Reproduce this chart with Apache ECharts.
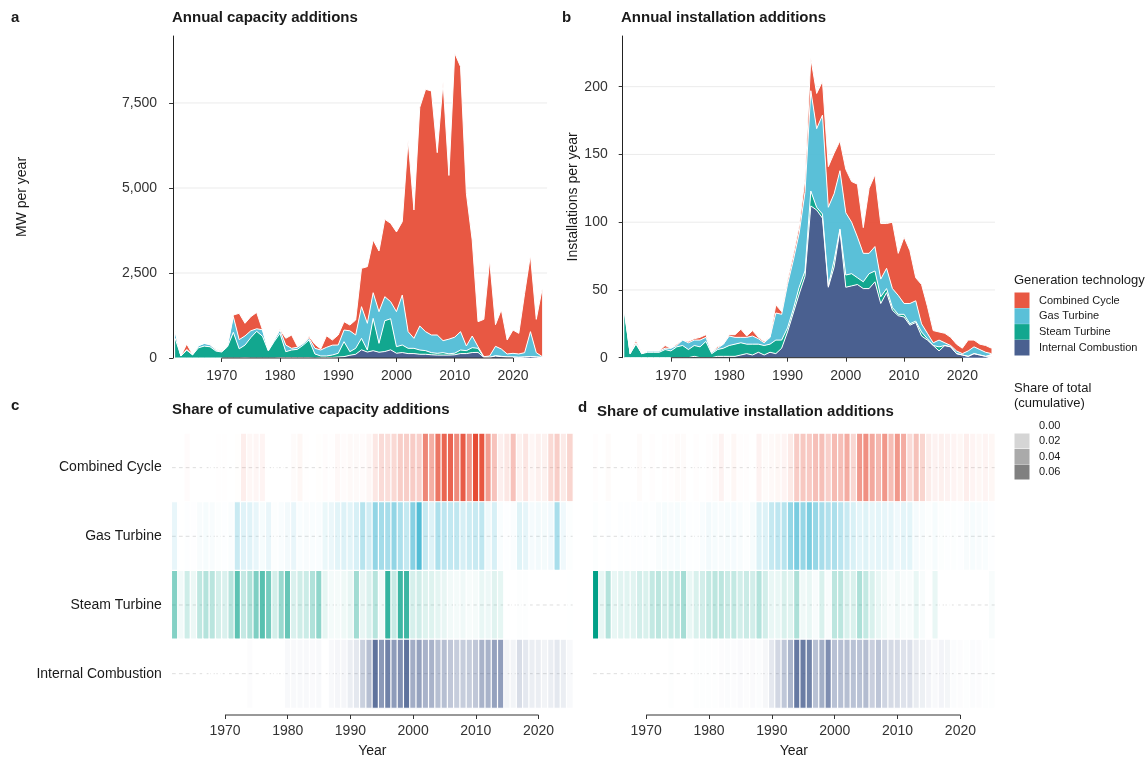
<!DOCTYPE html>
<html>
<head>
<meta charset="utf-8">
<title>Generation additions by technology</title>
<script src="https://cdn.jsdelivr.net/npm/echarts@6/dist/echarts.min.js"></script>
<style>
  html, body { margin: 0; padding: 0; background: #ffffff; }
  #chart { width: 1146px; height: 760px; }
</style>
</head>
<body>
<div id="chart"></div>
<script>
// ---------------------------------------------------------------------------
// Data
// ---------------------------------------------------------------------------
const years = [
  1962, 1963, 1964, 1965, 1966, 1967, 1968, 1969, 1970, 1971,
  1972, 1973, 1974, 1975, 1976, 1977, 1978, 1979, 1980, 1981,
  1982, 1983, 1984, 1985, 1986, 1987, 1988, 1989, 1990, 1991,
  1992, 1993, 1994, 1995, 1996, 1997, 1998, 1999, 2000, 2001,
  2002, 2003, 2004, 2005, 2006, 2007, 2008, 2009, 2010, 2011,
  2012, 2013, 2014, 2015, 2016, 2017, 2018, 2019, 2020, 2021,
  2022, 2023, 2024, 2025
];

const techs = ['Combined Cycle', 'Gas Turbine', 'Steam Turbine', 'Internal Combustion'];
const techColors = ['#E64B35', '#4DBBD5', '#00A087', '#3C5488'];

const xTicks = [1970, 1980, 1990, 2000, 2010, 2020];
const capTicks = [0, 2500, 5000, 7500];
const instTicks = [0, 50, 100, 150, 200];
const shareTicks = [0, 0.02, 0.04, 0.06];

// Annual capacity additions (MW)
const capCC = [
  10, 0, 160, 0, 0, 0, 10, 20, 20, 0,
  50, 775, 370, 416, 480, 0, 0, 0, 10, 200,
  390, 20, 0, 50, 120, 30, 340, 150, 294, 245,
  170, 441, 1127, 1666, 1549, 1784, 2274, 2304, 2343, 2157,
  5637, 3775, 6432, 7127, 7177, 5363, 7608, 4814, 8353, 7794,
  4490, 2823, 735, 1098, 2823, 637, 1157, 412, 686, 607,
  1743, 2255, 980, 1981
];
const capGT = [
  195, 0, 20, 10, 60, 80, 60, 30, 20, 40,
  460, 270, 270, 200, 75, 190, 30, 50, 100, 194,
  50, 60, 50, 50, 166, 175, 254, 290, 245, 343,
  614, 392, 932, 785, 755, 932, 708, 502, 1030, 1471,
  491, 294, 706, 559, 519, 539, 353, 431, 471, 540,
  137, 343, 49, 19, 39, 274, 215, 88, 107, 98,
  127, 735, 127, 29
];
const capST = [
  580, 60, 230, 90, 300, 350, 330, 205, 176, 330,
  755, 270, 375, 600, 785, 640, 206, 480, 715, 176,
  225, 245, 372, 520, 118, 50, 45, 73, 107, 440,
  106, 174, 338, 60, 950, 261, 906, 915, 193, 222,
  154, 154, 125, 106, 62, 52, 72, 38, 47, 105,
  86, 144, 119, 0, 0, 10, 10, 0, 0, 0,
  0, 0, 0, 5
];
const capIC = [
  0, 0, 0, 0, 0, 0, 0, 0, 0, 0,
  0, 0, 5, 0, 0, 0, 0, 0, 10, 10,
  10, 10, 8, 10, 0, 10, 15, 15, 30, 40,
  80, 110, 240, 175, 215, 170, 190, 240, 140, 160,
  130, 130, 110, 110, 95, 85, 85, 85, 95, 130,
  130, 160, 165, 20, 20, 59, 40, 30, 30, 20,
  30, 40, 30, 10
];

// Annual installation additions (units)
const instCC = [
  1, 0, 2, 0, 0, 0, 0, 2, 0, 1,
  0, 1, 1, 2, 2, 0, 1, 0, 1, 2,
  6, 1, 4, 1, 1, 0, 6, 2, 3, 4,
  5, 10, 24, 26, 25, 30, 30, 22, 32, 30,
  39, 19, 48, 53, 41, 33, 49, 31, 49, 39,
  17, 29, 20, 9, 6, 7, 6, 5, 4, 8,
  5, 4, 5, 4
];
const instGT = [
  2, 0, 1, 0, 1, 1, 1, 1, 2, 1,
  4, 5, 4, 5, 3, 1, 1, 3, 7, 5,
  4, 5, 6, 4, 2, 5, 20, 19, 32, 36,
  40, 58, 74, 58, 73, 58, 49, 43, 46, 38,
  30, 21, 15, 18, 13, 15, 14, 14, 8, 15,
  15, 6, 4, 2, 5, 2, 1, 2, 1, 4,
  5, 4, 3, 1
];
const instST = [
  34, 3, 10, 3, 4, 4, 4, 6, 5, 8,
  9, 6, 8, 8, 12, 3, 5, 6, 8, 9,
  9, 7, 8, 6, 7, 6, 10, 6, 3, 3,
  5, 4, 11, 2, 3, 1, 5, 1, 9, 9,
  5, 5, 11, 8, 5, 3, 2, 1, 2, 1,
  1, 3, 1, 0, 3, 0, 0, 0, 0, 0,
  0, 0, 0, 1
];
const instIC = [
  0, 0, 0, 0, 0, 0, 0, 0, 0, 0,
  0, 0, 1, 0, 0, 0, 1, 1, 1, 1,
  2, 3, 2, 4, 2, 4, 3, 7, 19, 33,
  47, 60, 112, 109, 103, 52, 67, 94, 52, 53,
  54, 51, 51, 56, 40, 48, 35, 31, 30, 24,
  26, 16, 13, 9, 5, 9, 8, 3, 2, 1,
  3, 2, 1, 1
];

// ---------------------------------------------------------------------------
// Layout
// ---------------------------------------------------------------------------
const FONT = '"Liberation Sans", Arial, Helvetica, sans-serif';
const INK = '#1a1a1a';
const TICK_INK = '#333333';
const GRID_LINE = '#EBEBEB';
const AREA_OPACITY = 0.93;

const grids = [
  { left: 175.1, top: 36, width: 367, height: 322 },        // a
  { left: 624.3, top: 36, width: 367.2, height: 321.7 },    // b
  { left: 171.7, top: 433.3, width: 401.3, height: 274.7 }, // c
  { left: 592.7, top: 433.3, width: 402.3, height: 274.7 }  // d
];
const TOP_Y_AXIS_OFFSET = [2, 1.6];
const TOP_GRID_EXTRA_RIGHT = [5, 3.5];
const HEAT_AXIS_OFFSET = 7;

// ---------------------------------------------------------------------------
// Helpers
// ---------------------------------------------------------------------------
function hexToRgb(hex) {
  const n = parseInt(hex.slice(1), 16);
  return [(n >> 16) & 255, (n >> 8) & 255, n & 255];
}
function rgba(hex, a) {
  const c = hexToRgb(hex);
  return 'rgba(' + c[0] + ',' + c[1] + ',' + c[2] + ',' + a.toFixed(4) + ')';
}

// Each technology's yearly value as a share of that technology's cumulative total
function cumulativeShares(rows) {
  return rows.map(function (row) {
    const total = row.reduce(function (s, v) { return s + v; }, 0);
    return row.map(function (v) { return total > 0 ? v / total : 0; });
  });
}

const capRows = [capCC, capGT, capST, capIC];
const instRows = [instCC, instGT, instST, instIC];
const capShares = cumulativeShares(capRows);
const instShares = cumulativeShares(instRows);
function maxOf(rows) {
  return Math.max.apply(null, rows.map(function (r) { return Math.max.apply(null, r); }));
}
const capShareMax = maxOf(capShares);
const instShareMax = maxOf(instShares);

const isDecade = function (idx, val) { return (+val) % 10 === 0; };

// Stacked areas: bottom to top = Internal Combustion, Steam, Gas, Combined Cycle
function areaSeries(rows, axisIdx, stackId) {
  const order = [3, 2, 1, 0];
  return order.map(function (k) {
    return {
      type: 'line',
      name: techs[k],
      xAxisIndex: axisIdx,
      yAxisIndex: axisIdx,
      stack: stackId,
      data: rows[k].slice(),
      showSymbol: false,
      symbol: 'none',
      smooth: false,
      silent: true,
      color: techColors[k],
      lineStyle: { color: '#ffffff', width: 1 },
      areaStyle: { color: techColors[k], opacity: AREA_OPACITY },
      emphasis: { disabled: true },
      z: 2
    };
  });
}

function heatSeries(shares, shareMax, axisIdx) {
  const data = [];
  shares.forEach(function (row, k) {
    row.forEach(function (s, i) {
      data.push({
        value: [i, k, s],
        itemStyle: { color: rgba(techColors[k], Math.min(1, s / shareMax)) }
      });
    });
  });
  return {
    type: 'heatmap',
    xAxisIndex: axisIdx,
    yAxisIndex: axisIdx,
    data: data,
    silent: true,
    itemStyle: { borderColor: '#ffffff', borderWidth: 1.2 },
    emphasis: { disabled: true },
    z: 3
  };
}

// Dashed guide through the middle of every technology row
function rowGuides(xAxisIdx, yAxisIdx) {
  return techs.map(function (t) {
    return {
      type: 'line',
      xAxisIndex: xAxisIdx,
      yAxisIndex: yAxisIdx,
      data: [[0, t], [1, t]],
      showSymbol: false,
      symbol: 'none',
      silent: true,
      lineStyle: { color: '#d6d6d6', width: 0.8, type: [4, 3] },
      emphasis: { disabled: true },
      z: 1
    };
  });
}

function yearAxisTop(gridIndex) {
  return {
    type: 'category',
    gridIndex: gridIndex,
    data: years.map(String),
    boundaryGap: false,
    axisLine: { show: false },
    axisTick: { show: true, length: 4, interval: isDecade, lineStyle: { color: TICK_INK } },
    axisLabel: { interval: isDecade, margin: 11, fontSize: 14, color: TICK_INK, fontFamily: FONT },
    splitLine: { show: false }
  };
}

function yearAxisHeat(gridIndex, withName) {
  return {
    type: 'category',
    gridIndex: gridIndex,
    data: years.map(String),
    offset: HEAT_AXIS_OFFSET,
    axisLine: { show: false },
    axisTick: { show: true, length: 4, alignWithLabel: true, interval: isDecade, lineStyle: { color: TICK_INK } },
    axisLabel: { interval: isDecade, margin: 9, fontSize: 14, color: TICK_INK, fontFamily: FONT },
    splitLine: { show: false },
    name: withName ? 'Year' : '',
    nameLocation: 'middle',
    nameGap: 29,
    nameTextStyle: { fontSize: 14, color: INK, fontFamily: FONT }
  };
}

function valueAxisTop(gridIndex, max, interval, ticks, name, nameGap, labelMargin, fmt) {
  return {
    type: 'value',
    gridIndex: gridIndex,
    min: 0,
    max: max,
    interval: interval,
    offset: TOP_Y_AXIS_OFFSET[gridIndex],
    axisLine: { show: true, lineStyle: { color: '#222222', width: 1 } },
    axisTick: { show: true, length: 4, customValues: ticks, lineStyle: { color: TICK_INK } },
    axisLabel: {
      customValues: ticks, margin: labelMargin,
      fontSize: 14, color: TICK_INK, fontFamily: FONT, formatter: fmt
    },
    splitLine: { show: false },
    name: name,
    nameLocation: 'middle',
    nameRotate: 90,
    nameGap: nameGap,
    nameTextStyle: { fontSize: 14, color: INK, fontFamily: FONT }
  };
}

function techAxisHeat(gridIndex, showLabels) {
  return {
    type: 'category',
    gridIndex: gridIndex,
    data: techs,
    inverse: true,
    axisLine: { show: false },
    axisTick: { show: false },
    axisLabel: { show: showLabels, margin: 10, fontSize: 14, color: INK, fontFamily: FONT },
    splitLine: { show: false }
  };
}

function hiddenUnitAxis(gridIndex) {
  return { type: 'value', gridIndex: gridIndex, min: 0, max: 1, show: false };
}

// ---------------------------------------------------------------------------
// Text and legends
// ---------------------------------------------------------------------------
function txt(id, text, x, y, size, weight, align) {
  return {
    type: 'text', id: id, x: x, y: y, silent: true, z: 20,
    style: {
      text: text, fill: INK,
      font: (weight || 'normal') + ' ' + size + 'px ' + FONT,
      align: align || 'left', textAlign: align || 'left',
      verticalAlign: 'middle', textVerticalAlign: 'middle'
    }
  };
}

const graphics = [
  txt('tag-a', 'a', 11, 18, 15, 'bold'),
  txt('tag-b', 'b', 562, 18, 15, 'bold'),
  txt('tag-c', 'c', 11, 406, 15, 'bold'),
  txt('tag-d', 'd', 578, 408, 15, 'bold'),
  txt('title-a', 'Annual capacity additions', 172, 18, 15, 'bold'),
  txt('title-b', 'Annual installation additions', 621, 18, 15, 'bold'),
  txt('title-c', 'Share of cumulative capacity additions', 172, 410, 15, 'bold'),
  txt('title-d', 'Share of cumulative installation additions', 597, 412, 15, 'bold'),
  txt('leg-tech-title', 'Generation technology', 1014, 280, 13)
];

techs.forEach(function (t, k) {
  graphics.push({
    type: 'rect', id: 'leg-key-' + k, silent: true, z: 20,
    shape: { x: 1014.5, y: 292.5 + k * 15.8, width: 15, height: 15.6 },
    style: { fill: techColors[k], opacity: AREA_OPACITY }
  });
  graphics.push(txt('leg-lab-' + k, t, 1039, 300.5 + k * 15.8, 11));
});

graphics.push(txt('leg-share-title-1', 'Share of total', 1014, 388, 13));
graphics.push(txt('leg-share-title-2', '(cumulative)', 1014, 403, 13));
shareTicks.forEach(function (v, k) {
  graphics.push({
    type: 'rect', id: 'leg-share-key-' + k, silent: true, z: 20,
    shape: { x: 1014.5, y: 418 + k * 15.5, width: 15, height: 15 },
    style: { fill: rgba('#595959', Math.min(1, v / capShareMax)) }
  });
  graphics.push(txt('leg-share-lab-' + k, v.toFixed(2), 1039, 425.5 + k * 15.5, 11));
});

// ---------------------------------------------------------------------------
// Chart
// ---------------------------------------------------------------------------
const chart = echarts.init(document.getElementById('chart'), null, { renderer: 'canvas', width: 1146, height: 760 });

const option = {
  backgroundColor: '#ffffff',
  animation: false,
  textStyle: { fontFamily: FONT },
  grid: grids.map(function (g) {
    return Object.assign({ containLabel: false, outerBoundsMode: 'none' }, g);
  }),
  xAxis: [
    yearAxisTop(0),
    yearAxisTop(1),
    yearAxisHeat(2, true),
    yearAxisHeat(3, true),
    hiddenUnitAxis(2),
    hiddenUnitAxis(3)
  ],
  yAxis: [
    valueAxisTop(0, 9470, 2500, capTicks, 'MW per year', 144, 16,
      function (v) { return v.toLocaleString('en-US'); }),
    valueAxisTop(1, 237.4, 50, instTicks, 'Installations per year', 43, 15,
      function (v) { return String(v); }),
    techAxisHeat(2, true),
    techAxisHeat(3, false)
  ],
  series: []
    .concat(areaSeries(capRows, 0, 'capacity'))
    .concat(areaSeries(instRows, 1, 'installations'))
    .concat(rowGuides(4, 2))
    .concat(rowGuides(5, 3))
    .concat([heatSeries(capShares, capShareMax, 2), heatSeries(instShares, instShareMax, 3)]),
  graphic: graphics
};

chart.setOption(option);

// Horizontal guides at the labelled values, spanning the full panel width,
// and year axes that only run between the first and last labelled decade.
const first = years.indexOf(xTicks[0]);
const last = years.indexOf(xTicks[xTicks.length - 1]);
const extra = [];
[[0, capTicks], [1, instTicks]].forEach(function (pair) {
  const k = pair[0];
  const left = grids[k].left - TOP_Y_AXIS_OFFSET[k];
  const right = grids[k].left + grids[k].width + TOP_GRID_EXTRA_RIGHT[k];
  pair[1].forEach(function (v, j) {
    if (v === 0) return;
    const y = chart.convertToPixel({ yAxisIndex: k }, v);
    extra.push({
      type: 'line', id: 'hgrid-' + k + '-' + j, silent: true, z: 0,
      shape: { x1: left, y1: y, x2: right, y2: y },
      style: { stroke: GRID_LINE, lineWidth: 1 }
    });
  });
  const a = chart.convertToPixel({ gridIndex: k }, [first, 0]);
  const b = chart.convertToPixel({ gridIndex: k }, [last, 0]);
  extra.push({
    type: 'line', id: 'xcap-' + k, silent: true, z: 15,
    shape: { x1: a[0], y1: a[1], x2: b[0], y2: b[1] },
    style: { stroke: TICK_INK, lineWidth: 1 }
  });
});
[2, 3].forEach(function (k) {
  const x1 = chart.convertToPixel({ xAxisIndex: k }, first);
  const x2 = chart.convertToPixel({ xAxisIndex: k }, last);
  const y = grids[k].top + grids[k].height + HEAT_AXIS_OFFSET;
  extra.push({
    type: 'line', id: 'xcap-' + k, silent: true, z: 15,
    shape: { x1: x1, y1: y, x2: x2, y2: y },
    style: { stroke: TICK_INK, lineWidth: 1 }
  });
});
chart.setOption({ graphic: extra });
</script>
</body>
</html>
